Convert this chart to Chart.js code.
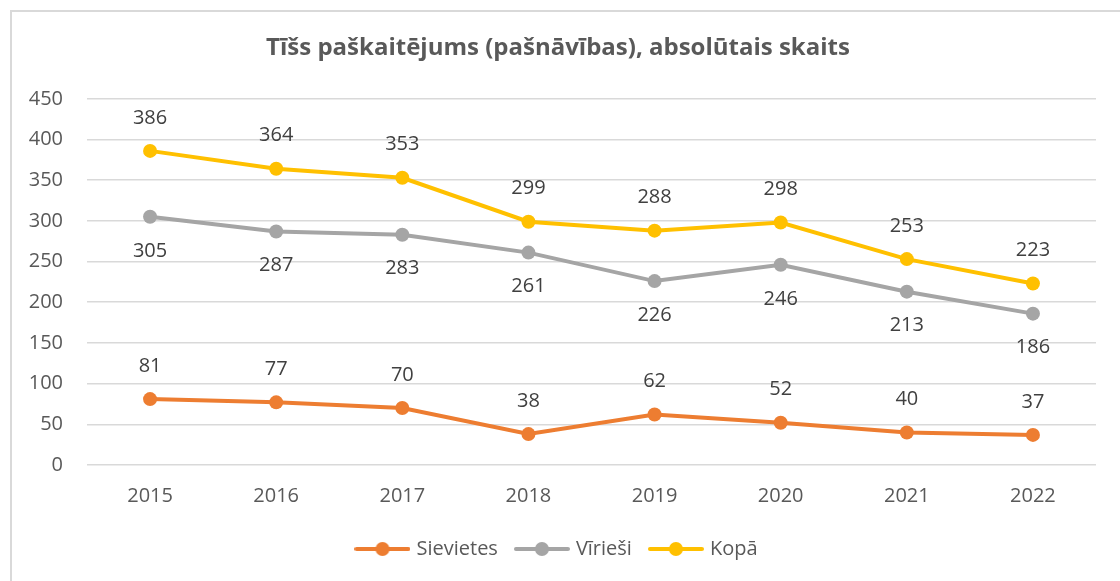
<!DOCTYPE html>
<html>
<head>
<meta charset="utf-8">
<script src="https://cdn.jsdelivr.net/npm/chart.js@4"></script>
<style>
    html, body { margin: 0; padding: 0; background: #fff; overflow: hidden; }
    #frame { position: absolute; left: 10px; top: 10px; width: 1200px; height: 700px; border: 2px solid #d9d9d9; box-sizing: border-box; }
    #wrap { position: absolute; left: 0; top: 0; width: 1120px; height: 581px; }
</style>
</head>
<body>
<div id="frame"></div>
<div id="wrap"><canvas id="chart"></canvas></div>
<script>
// data
const years = ['2015', '2016', '2017', '2018', '2019', '2020', '2021', '2022'];
const sievietes = [81, 77, 70, 38, 62, 52, 40, 37];
const virviesi = [305, 287, 283, 261, 226, 246, 213, 186];
const kopa = [386, 364, 353, 299, 288, 298, 253, 223];
const yTicks = [0, 50, 100, 150, 200, 250, 300, 350, 400, 450];

const textColor = '#595959';
const fontFamily = "'Open Sans', 'Liberation Sans', sans-serif";

// legend marker: short line with a dot, like the office-style legend
function legendMarker(color) {
    const c = document.createElement('canvas');
    c.width = 56; c.height = 16;
    const ctx = c.getContext('2d');
    ctx.strokeStyle = color;
    ctx.lineWidth = 4;
    ctx.lineCap = 'round';
    ctx.beginPath();
    ctx.moveTo(2, 8); ctx.lineTo(54, 8);
    ctx.stroke();
    ctx.fillStyle = color;
    ctx.beginPath();
    ctx.arc(28, 8, 7, 0, Math.PI * 2);
    ctx.fill();
    return c;
}

// simple value labels (no datalabels plugin available offline)
const valueLabels = {
    id: 'valueLabels',
    afterDatasetsDraw(chart) {
        const ctx = chart.ctx;
        ctx.save();
        ctx.font = '20px ' + fontFamily;
        ctx.fillStyle = '#404040';
        ctx.textAlign = 'center';
        ctx.textBaseline = 'middle';
        chart.data.datasets.forEach((ds, i) => {
            const meta = chart.getDatasetMeta(i);
            meta.data.forEach((pt, j) => {
                const dy = ds.labelPos === 'below' ? 34 : -33;
                ctx.fillText(String(ds.data[j]), pt.x, pt.y + dy);
            });
        });
        ctx.restore();
    }
};

new Chart(document.getElementById('chart'), {
    type: 'line',
    data: {
        labels: years,
        datasets: [
            {
                label: 'Sievietes',
                data: sievietes,
                borderColor: '#ED7D31',
                backgroundColor: '#ED7D31',
                labelPos: 'above'
            },
            {
                label: 'Vīrieši',
                data: virviesi,
                borderColor: '#A5A5A5',
                backgroundColor: '#A5A5A5',
                labelPos: 'below'
            },
            {
                label: 'Kopā',
                data: kopa,
                borderColor: '#FFC000',
                backgroundColor: '#FFC000',
                labelPos: 'above'
            }
        ]
    },
    options: {
        responsive: true,
        maintainAspectRatio: false,
        animation: false,
        elements: {
            line: { borderWidth: 4, tension: 0 },
            point: { radius: 7, hoverRadius: 7, borderWidth: 0 }
        },
        layout: { padding: { left: 20, right: 24, top: 0, bottom: 12 } },
        plugins: {
            title: {
                display: true,
                text: 'Tīšs paškaitējums (pašnāvības), absolūtais skaits',
                color: textColor,
                font: { family: fontFamily, size: 24, weight: 'bold' },
                padding: { top: 34, bottom: 36 }
            },
            legend: {
                position: 'bottom',
                labels: {
                    color: textColor,
                    font: { family: fontFamily, size: 20 },
                    usePointStyle: true,
                    pointStyleWidth: 48,
                    padding: 20,
                    generateLabels(chart) {
                        return chart.data.datasets.map((ds, i) => ({
                            text: ds.label,
                            fontColor: textColor,
                            pointStyle: legendMarker(ds.borderColor),
                            datasetIndex: i,
                            lineWidth: 0,
                            strokeStyle: 'transparent',
                            fillStyle: ds.borderColor
                        }));
                    }
                }
            },
            tooltip: { enabled: false }
        },
        scales: {
            x: {
                offset: true,
                grid: { display: false },
                border: { display: false },
                ticks: {
                    color: textColor,
                    font: { family: fontFamily, size: 20 },
                    padding: 11
                }
            },
            y: {
                min: 0,
                max: 450,
                afterBuildTicks(scale) {
                    scale.ticks = yTicks.map(v => ({ value: v }));
                },
                afterFit(scale) { scale.width = 67; },
                grid: { color: '#d9d9d9', lineWidth: 1.5, drawTicks: false },
                border: { display: false },
                ticks: {
                    color: textColor,
                    font: { family: fontFamily, size: 20 },
                    padding: 24
                }
            }
        }
    },
    plugins: [valueLabels]
});
</script>
</body>
</html>
